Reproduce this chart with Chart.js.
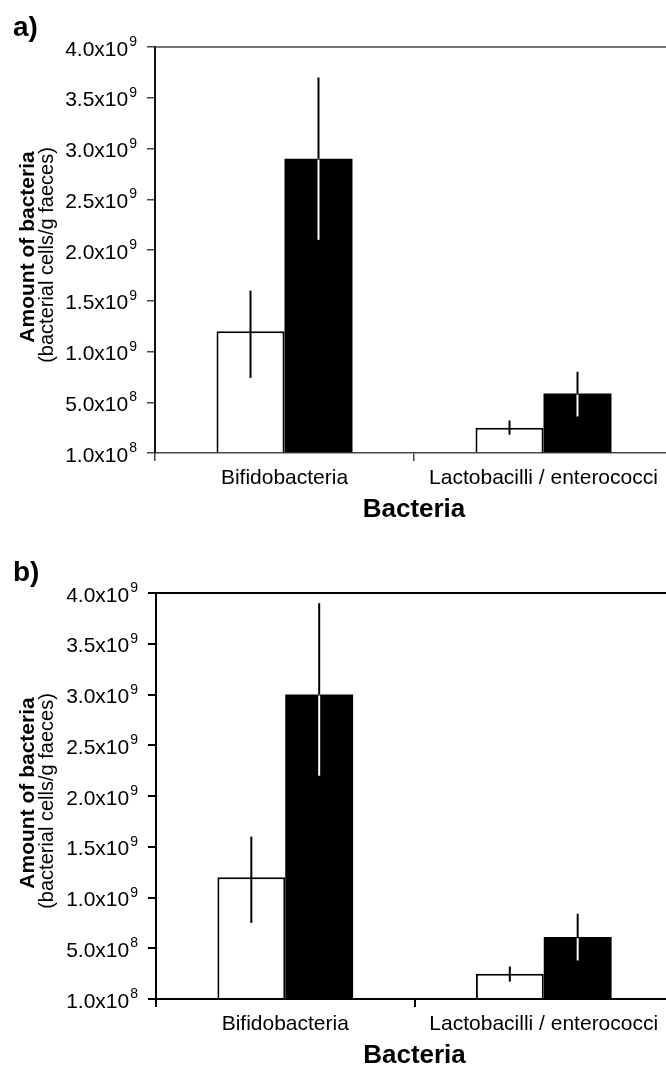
<!DOCTYPE html>
<html>
<head>
<meta charset="utf-8">
<script src="https://cdn.jsdelivr.net/npm/chart.js@4.4.1/dist/chart.umd.min.js"></script>
<style>
  html, body { margin: 0; padding: 0; background: #fff; overflow: hidden; }
  .panel { width: 666px; overflow: hidden; }
  #wrapA { height: 530px; }
  #wrapB { height: 536px; }
</style>
</head>
<body>
<div class="panel" id="wrapA"><canvas id="chartA" width="674" height="530"></canvas></div>
<div class="panel" id="wrapB"><canvas id="chartB" width="674" height="536"></canvas></div>
<script>
const categories = ['Bifidobacteria', 'Lactobacilli / enterococci'];
const tickLabels = ['1.0x10^8', '5.0x10^8', '1.0x10^9', '1.5x10^9', '2.0x10^9',
                    '2.5x10^9', '3.0x10^9', '3.5x10^9', '4.0x10^9'];

// panel a
const whiteA = [1.2e9, 0.25e9];
const whiteALow = [0.74e9, 0.18e9];
const whiteAHigh = [1.6e9, 0.32e9];
const blackA = [2.9e9, 0.585e9];
const blackALow = [2.1e9, 0.36e9];
const blackAHigh = [3.7e9, 0.8e9];

// panel b
const whiteB = [1.2e9, 0.25e9];
const whiteBLow = [0.75e9, 0.17e9];
const whiteBHigh = [1.6e9, 0.32e9];
const blackB = [3.0e9, 0.61e9];
const blackBLow = [2.2e9, 0.38e9];
const blackBHigh = [3.9e9, 0.84e9];

const FONT = '"Liberation Sans", Arial, Helvetica, sans-serif';

function drawPanel(id, p) {
  const extras = {
    id: 'extras',
    afterDatasetsDraw(chart) {
      const ctx = chart.ctx, yScale = chart.scales.y;
      p.errors.forEach((err, di) => {
        chart.getDatasetMeta(di).data.forEach((bar, i) => {
          const hi = yScale.getPixelForValue(err.high[i]);
          const lo = yScale.getPixelForValue(err.low[i]);
          ctx.save();
          ctx.lineWidth = 2;
          ctx.strokeStyle = '#000';
          ctx.beginPath();
          ctx.moveTo(bar.x, hi);
          ctx.lineTo(bar.x, err.inside ? bar.y : lo);
          ctx.stroke();
          if (err.inside) {
            ctx.strokeStyle = '#fff';
            ctx.beginPath();
            ctx.moveTo(bar.x, bar.y + 1);
            ctx.lineTo(bar.x, lo);
            ctx.stroke();
          }
          ctx.restore();
        });
      });
    },
    afterDraw(chart) {
      const ctx = chart.ctx, area = chart.chartArea, yScale = chart.scales.y;
      ctx.save();
      // top frame line
      ctx.strokeStyle = p.lineColor;
      ctx.lineWidth = p.lineWidth;
      ctx.beginPath();
      ctx.moveTo(area.left, area.top);
      ctx.lineTo(area.right, area.top);
      ctx.stroke();

      // y tick labels with superscript exponents
      ctx.fillStyle = '#000';
      ctx.textAlign = 'right';
      ctx.textBaseline = 'alphabetic';
      yScale.ticks.forEach((t, i) => {
        const [base, exp] = tickLabels[i].split('^');
        const py = yScale.getPixelForValue(t.value);
        const right = area.left - 18;
        ctx.font = '14px ' + FONT;
        ctx.fillText(exp, right, py - 1);
        const ew = ctx.measureText(exp).width;
        ctx.font = '21px ' + FONT;
        ctx.fillText(base, right - ew - 1, py + 8.5);
      });

      // y axis title, two lines
      const cy = (area.top + area.bottom) / 2;
      ctx.textAlign = 'center';
      ctx.save();
      ctx.translate(34, cy - 3);
      ctx.rotate(-Math.PI / 2);
      ctx.font = 'bold 21px ' + FONT;
      ctx.fillText('Amount of bacteria', 0, 0);
      ctx.restore();
      ctx.save();
      ctx.translate(53, cy + 5);
      ctx.rotate(-Math.PI / 2);
      ctx.font = '20px ' + FONT;
      ctx.fillText('(bacterial cells/g faeces)', 0, 0);
      ctx.restore();

      // panel letter
      ctx.textAlign = 'left';
      ctx.font = 'bold 28px ' + FONT;
      ctx.fillText(p.panel, 13, p.panelY);
      ctx.restore();
    }
  };

  new Chart(document.getElementById(id), {
    type: 'bar',
    data: {
      labels: categories,
      datasets: [
        {
          label: 'Series 1',
          data: p.white,
          backgroundColor: '#fff',
          borderColor: '#000',
          borderWidth: 2,
          borderSkipped: 'start'
        },
        {
          label: 'Series 2',
          data: p.black,
          backgroundColor: '#000',
          borderWidth: 0
        }
      ]
    },
    options: {
      responsive: false,
      animation: false,
      layout: { padding: { left: p.left, top: p.top, right: 1, bottom: p.bottom } },
      datasets: { bar: { categoryPercentage: 0.525, barPercentage: 1.0 } },
      plugins: { legend: { display: false }, tooltip: { enabled: false } },
      scales: {
        x: {
          grid: { drawOnChartArea: false, tickLength: 8, color: p.lineColor, lineWidth: p.lineWidth },
          border: { color: p.lineColor, width: p.lineWidth },
          ticks: { color: '#000', padding: 5, maxRotation: 0, autoSkip: false, font: { family: FONT, size: 21 } },
          title: {
            display: true,
            text: 'Bacteria',
            color: '#000',
            padding: { top: 3, bottom: 0 },
            font: { family: FONT, size: 26, weight: 'bold', lineHeight: 0.8 }
          }
        },
        y: {
          min: 0,
          max: 4e9,
          ticks: { display: false, stepSize: 5e8 },
          grid: { drawOnChartArea: false, tickLength: 8, color: p.lineColor, lineWidth: p.lineWidth },
          border: { color: p.axisColor, width: 2 }
        }
      }
    },
    plugins: [extras]
  });
}

drawPanel('chartA', {
  panel: 'a)', panelY: 36, left: 147, top: 47, bottom: 10,
  lineColor: '#444', lineWidth: 1.5, axisColor: '#111',
  white: whiteA, black: blackA,
  errors: [
    { low: whiteALow, high: whiteAHigh, inside: false },
    { low: blackALow, high: blackAHigh, inside: true }
  ]
});

drawPanel('chartB', {
  panel: 'b)', panelY: 51, left: 148, top: 63, bottom: 0,
  lineColor: '#000', lineWidth: 2, axisColor: '#000',
  white: whiteB, black: blackB,
  errors: [
    { low: whiteBLow, high: whiteBHigh, inside: false },
    { low: blackBLow, high: blackBHigh, inside: true }
  ]
});
</script>
</body>
</html>
